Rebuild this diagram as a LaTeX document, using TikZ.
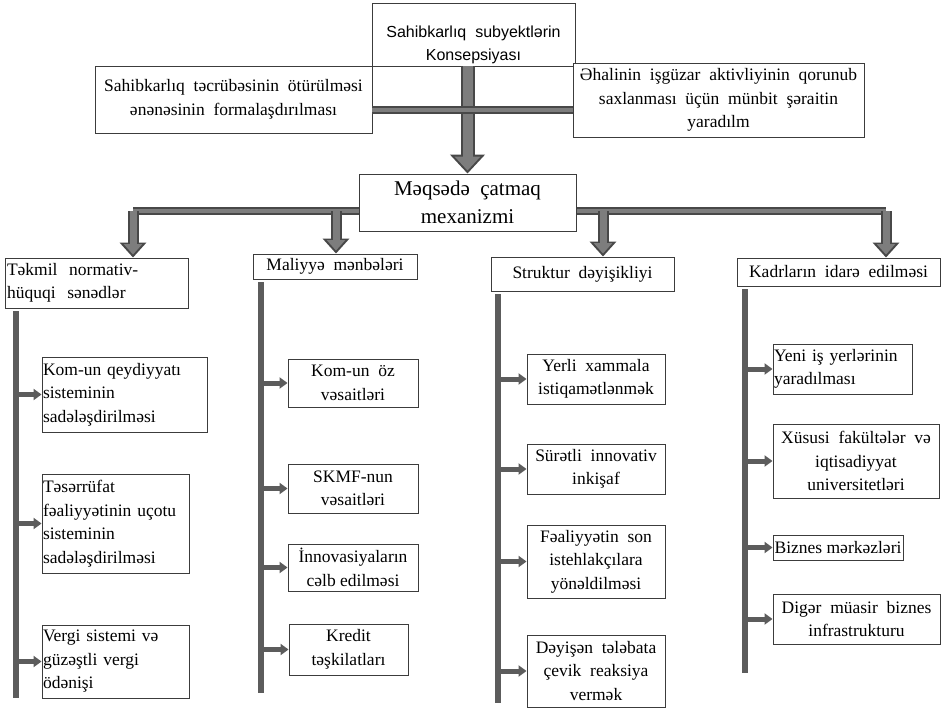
\documentclass[tikz,border=0pt]{standalone}
\usepackage{fontspec}
\setmainfont{Liberation Serif}
\newfontfamily\arialfont{Liberation Sans}
\usetikzlibrary{arrows.meta, positioning}

\definecolor{boxedge}{RGB}{60,60,60}
\definecolor{arrowedge}{RGB}{72,72,72}
\definecolor{arrowfill}{RGB}{125,125,125}
\definecolor{spinegray}{RGB}{92,92,92}

\tikzset{
  box/.style={draw=boxedge, line width=0.9pt, fill=white, inner sep=1pt,
              font=\fontsize{17.5}{23.5}\selectfont},
  midbox/.style={box, align=center},
  leftbox/.style={box, align=left},
  linkbar/.style={draw=arrowedge, line width=8pt,
                  postaction={draw=arrowfill, line width=4.5pt}},
  bigarrow/.style={draw=arrowedge, line width=14pt, -{Triangle[width=34pt,length=19pt]},
                   postaction={draw=arrowfill, line width=10pt, shorten >=3pt,
                               -{Triangle[width=25pt,length=14pt]}}},
  droparrow/.style={draw=arrowedge, line width=11pt, -{Triangle[width=26pt,length=15pt]},
                    postaction={draw=arrowfill, line width=7pt, shorten >=3pt,
                                -{Triangle[width=18pt,length=10.5pt]}}},
  spinebar/.style={draw=spinegray, line width=6pt},
  sidearrow/.style={draw=spinegray, line width=5pt, -{Triangle[width=11pt,length=8pt]}}
}

\begin{document}
\begin{tikzpicture}[x=1pt, y=1pt]
\useasboundingbox (0,0) rectangle (941,-712);

        % the bar under the middle box
        \coordinate (d1) at (133,-211);
        \coordinate (d2) at (336,-211);
        \coordinate (d3) at (603,-211);
        \coordinate (d4) at (886,-211);
\draw[linkbar]  (d1) -- (d4);

        % top boxes
        \node[midbox, minimum width=203pt, minimum height=63pt, font=\arialfont\fontsize{16}{23}\selectfont] at (473.5,-34.5) (konsep) {\rule{0pt}{32pt}Sahibkarlıq\ \ subyektlərin\\Konsepsiyası};
        \node[midbox, minimum width=277pt, minimum height=67pt] at (233.5,-99.5) (enene) {Sahibkarlıq\ \ təcrübəsinin\ \ ötürülməsi\\ənənəsinin\ \ formalaşdırılması};
        \node[midbox, minimum width=291pt, minimum height=74pt] at (718.5,-100) (ehali) {Əhalinin\ \ işgüzar\ \ aktivliyinin\ \ qorunub\\saxlanması\ \ üçün\ \ münbit\ \ şəraitin\\yaradılm};
        \node[midbox, minimum width=217pt, minimum height=57pt, font=\fontsize{21}{28}\selectfont] at (467.5,-202.5) (mexanizm) {Məqsədə\ \ çatmaq\\mexanizmi};

        % second row
        \node[leftbox, minimum width=183pt, text width=179pt, minimum height=50pt] at (96.5,-283) (tekmil) {Təkmil\ \ normativ-\\hüquqi\ \ sənədlər};
        \node[midbox, minimum width=164pt, minimum height=25pt] at (335,-266.5) (maliyye) {Maliyyə\ \ mənbələri};
        \node[midbox, minimum width=183pt, minimum height=34pt] at (582.5,-274) (struktur) {Struktur\ \ dəyişikliyi};
        \node[midbox, minimum width=203pt, minimum height=28pt] at (838.5,-272) (kadr) {Kadrların\ \ idarə\ \ edilməsi};

        % first column
        \node[leftbox, minimum width=165pt, text width=163pt, minimum height=75pt] at (124.5,-394.5) (k1a) {Kom-un qeydiyyatı\\sisteminin\\sadələşdirilməsi};
        \node[leftbox, minimum width=147pt, text width=145pt, minimum height=99pt] at (115.5,-523.5) (k1b) {Təsərrüfat\\fəaliyyətinin uçotu\\sisteminin\\sadələşdirilməsi};
        \node[leftbox, minimum width=147pt, text width=145pt, minimum height=73pt] at (115.5,-661.5) (k1c) {Vergi sistemi və\\güzəştli vergi\\ödənişi};

        % second column
        \node[midbox, minimum width=130pt, minimum height=48pt] at (353,-383) (k2a) {Kom-un\ \ öz\\vəsaitləri};
        \node[midbox, minimum width=130pt, minimum height=49pt] at (353,-488.5) (k2b) {SKMF-nun\\vəsaitləri};
        \node[midbox, minimum width=130pt, minimum height=47pt] at (353,-567.5) (k2c) {İnnovasiyaların\\cəlb edilməsi};
        \node[midbox, minimum width=119pt, minimum height=51pt] at (348.5,-649.5) (k2d) {Kredit\\təşkilatları};

        % third column
        \node[midbox, minimum width=138pt, minimum height=50pt] at (596,-379) (k3a) {Yerli\ \ xammala\\istiqamətlənmək};
        \node[midbox, minimum width=138pt, minimum height=50pt] at (596,-469) (k3b) {Sürətli\ \ innovativ\\inkişaf};
        \node[midbox, minimum width=138pt, minimum height=73pt] at (596,-561.5) (k3c) {Fəaliyyətin\ \ son\\istehlakçılara\\yönəldilməsi};
        \node[midbox, minimum width=138pt, minimum height=72pt] at (596,-671) (k3d) {Dəyişən\ \ tələbata\\çevik\ \ reaksiya\\vermək};

        % fourth column
        \node[leftbox, minimum width=139pt, text width=137pt, minimum height=50pt] at (842.5,-369) (k4a) {Yeni iş yerlərinin\\yaradılması};
        \node[midbox, minimum width=166pt, minimum height=74pt] at (856,-461) (k4b) {Xüsusi\ \ fakültələr\ \ və\\iqtisadiyyat\\universitetləri};
        \node[leftbox, minimum width=130pt, minimum height=25pt] at (838,-547.5) (k4c) {Biznes mərkəzləri};
        \node[midbox, minimum width=167pt, minimum height=50pt] at (856.5,-619) (k4d) {Digər\ \ müasir\ \ biznes\\infrastrukturu};

        % arrows from the top
\draw[bigarrow]  (mexanizm.north |- konsep.south) -- (mexanizm.north);
\draw[linkbar]  ([yshift=-10.5pt]enene.east) -- ([yshift=-10.5pt]enene.east -| ehali.west);

\draw[droparrow]  (d1) -- (d1 |- tekmil.north);
\draw[droparrow]  (d2) -- (d2 |- maliyye.north);
\draw[droparrow]  (d3) -- (d3 |- struktur.north);
\draw[droparrow]  (d4) -- (d4 |- kadr.north);

        % the spines
        \coordinate (s1) at (16,-698);
        \coordinate (s2) at (261,-693);
        \coordinate (s3) at (498,-703);
        \coordinate (s4) at (745,-673);
\draw[spinebar]  ([yshift=-3pt]s1 |- tekmil.south) -- (s1);
\draw[spinebar]  ([yshift=-3pt]s2 |- maliyye.south) -- (s2);
\draw[spinebar]  ([yshift=-3pt]s3 |- struktur.south) -- (s3);
\draw[spinebar]  ([yshift=-3pt]s4 |- kadr.south) -- (s4);

\draw[sidearrow]  (s1 |- k1a.west) -- (k1a.west);
\draw[sidearrow]  (s1 |- k1b.west) -- (k1b.west);
\draw[sidearrow]  (s1 |- k1c.west) -- (k1c.west);

\draw[sidearrow]  (s2 |- k2a.west) -- (k2a.west);
\draw[sidearrow]  (s2 |- k2b.west) -- (k2b.west);
\draw[sidearrow]  (s2 |- k2c.west) -- (k2c.west);
\draw[sidearrow]  (s2 |- k2d.west) -- (k2d.west);

\draw[sidearrow]  (s3 |- k3a.west) -- (k3a.west);
\draw[sidearrow]  (s3 |- k3b.west) -- (k3b.west);
\draw[sidearrow]  (s3 |- k3c.west) -- (k3c.west);
\draw[sidearrow]  (s3 |- k3d.west) -- (k3d.west);

\draw[sidearrow]  (s4 |- k4a.west) -- (k4a.west);
\draw[sidearrow]  (s4 |- k4b.west) -- (k4b.west);
\draw[sidearrow]  (s4 |- k4c.west) -- (k4c.west);
\draw[sidearrow]  (s4 |- k4d.west) -- (k4d.west);
\end{tikzpicture}
\end{document}
